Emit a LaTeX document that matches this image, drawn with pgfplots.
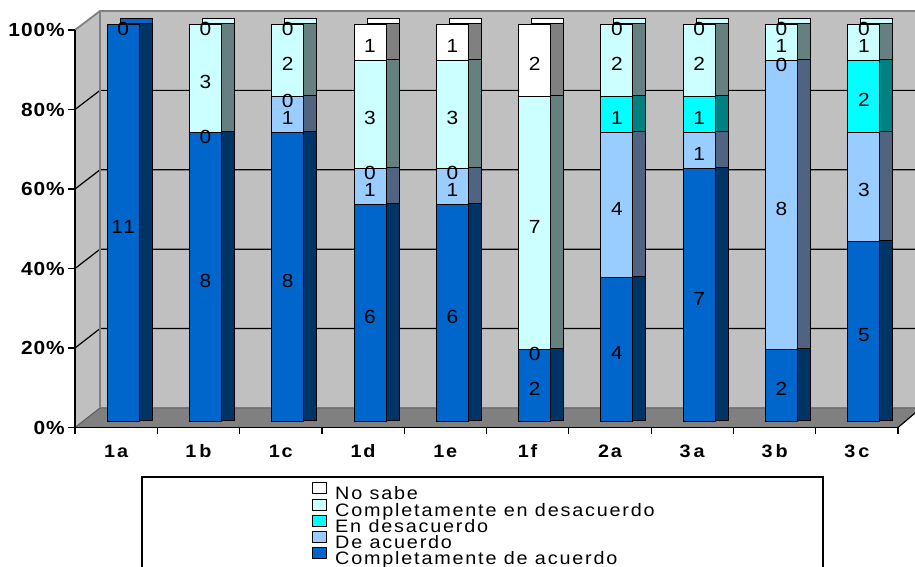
\documentclass[border=0pt]{standalone}
\usepackage{fontspec}
\setmainfont{Liberation Sans}
\newfontfamily\xl[FakeStretch=1.1,LetterSpace=10]{Liberation Sans}
\newfontfamily\xa[FakeStretch=1.1,LetterSpace=5]{Liberation Sans}
\usepackage{pgfplots}
\pgfplotsset{compat=1.18}
\usepackage{pgfplotstable}
\definecolor{ca}{HTML}{0066CC}
\definecolor{cas}{HTML}{003366}
\definecolor{da}{HTML}{99CCFF}
\definecolor{das}{HTML}{506482}
\definecolor{ed}{HTML}{00FFFF}
\definecolor{eds}{HTML}{008080}
\definecolor{cd}{HTML}{CCFFFF}
\definecolor{cds}{HTML}{668080}
\definecolor{ns}{HTML}{FFFFFF}
\definecolor{nss}{HTML}{808080}
\definecolor{wall}{HTML}{C0C0C0}
\definecolor{floorc}{HTML}{808080}
\definecolor{edge}{HTML}{808080}
\pgfplotsset{sqlegend/.style={legend image code/.code={\draw[##1,draw=black,line width=1pt] (0pt,1pt) rectangle (14pt,12pt);}},
  barbox/.style={scale only axis, width=823pt, height=397.5pt, hide axis,
  xmin=-0.5, xmax=9.5, ymin=0, ymax=11, ybar stacked, bar width=32pt, anchor=south west}}
\newcommand{\legtxt}[1]{\raisebox{0pt}[11.5pt][4.5pt]{#1}}
\pgfplotstableread{
x ca da ed cd ns
0 11 0 0 0 0
1 8 0 0 3 0
2 8 1 0 2 0
3 6 1 0 3 1
4 6 1 0 3 1
5 2 0 0 7 2
6 4 4 1 2 0
7 7 1 1 2 0
8 2 8 0 1 0
9 5 3 2 1 0
}\data
\pgfplotstableread{
x y lab
0 5.4 11
0 10.88 0
1 3.9 8
1 7.88 0
1 9.4 3
1 10.88 0
2 3.9 8
2 8.4 1
2 8.88 0
2 9.9 2
2 10.88 0
3 2.9 6
3 6.4 1
3 6.88 0
3 8.4 3
3 10.4 1
4 2.9 6
4 6.4 1
4 6.88 0
4 8.4 3
4 10.4 1
5 0.9 2
5 1.88 0
5 5.4 7
5 9.9 2
6 1.9 4
6 5.9 4
6 8.4 1
6 9.9 2
6 10.88 0
7 3.4 7
7 7.4 1
7 8.4 1
7 9.9 2
7 10.88 0
8 0.9 2
8 5.9 8
8 9.88 0
8 10.4 1
8 10.88 0
9 2.4 5
9 6.4 3
9 8.9 2
9 10.4 1
9 10.88 0
}\labels
\begin{document}
\begin{tikzpicture}
\useasboundingbox (0pt,0pt) rectangle (915pt,567pt);
% walls and floor
\fill[wall] (100pt,159pt) rectangle (920pt,556pt);
\fill[wall] (75pt,139.5pt) -- (100pt,159pt) -- (100pt,556pt) -- (75pt,537pt) -- cycle;
\fill[floorc] (75pt,139.5pt) -- (100pt,159pt) -- (921pt,159pt) -- (898pt,139.5pt) -- cycle;
\draw[black,line width=1.2pt] (898pt,139.5pt) -- (921pt,159pt);
\draw[edge!70!black,line width=1pt] (75pt,139.5pt) -- (100pt,159pt) -- (920pt,159pt);
\foreach \a/\b in {219/238.4,298.5/317.8,378/397.2,457.5/476.6}{
  \draw[black,line width=1.2pt] (75pt,\a pt) -- (100pt,\b pt) -- (920pt,\b pt);
}
\draw[edge,line width=1.5pt] (100pt,159pt) -- (100pt,556pt);
\draw[edge,line width=1.8pt] (75pt,537pt) -- (100pt,556pt) -- (920pt,556pt);
% front axis
\begin{axis}[at={(75pt,139.5pt)}, anchor=south west, scale only axis,
  width=823pt, height=397.5pt,
  xmin=-0.5, xmax=9.5, ymin=0, ymax=100,
  axis x line*=bottom, axis y line*=left,
  axis line style={line width=1.5pt,-},
  xtick={-0.5,0.5,...,9.5}, x tick label as interval,
  xticklabels={1a,1\,b,1c,1d,1e,1f,2a,3\,a,3\,b,3\,c},
  ytick={0,20,40,60,80,100},
  yticklabels={0\%,20\%,40\%,60\%,80\%,100\%},
  tick align=outside, major tick length=7pt,
  tick style={black,line width=1.2pt},
  xticklabel style={font=\xl\bfseries\fontsize{18}{19}\selectfont, anchor=north, inner sep=0pt, yshift=-10pt},
  yticklabel style={font=\xa\bfseries\fontsize{19}{20}\selectfont, anchor=east, inner sep=0pt, xshift=-3pt},
  ]
\addplot[draw=none] coordinates {(0,0)};
\end{axis}
% legend box
\draw[black,line width=1.2pt] (142pt,-5pt) rectangle (823pt,90pt);
% top faces (front colours, shifted back)
\begin{axis}[barbox, at={(95pt,151.3pt)}]
\addplot[fill=ca, draw=black, line width=1pt] table[x=x,y=ca]{\data};
\addplot[fill=da, draw=black, line width=1pt] table[x=x,y=da]{\data};
\addplot[fill=ed, draw=black, line width=1pt] table[x=x,y=ed]{\data};
\addplot[fill=cd, draw=black, line width=1pt] table[x=x,y=cd]{\data};
\addplot[fill=ns, draw=black, line width=1pt] table[x=x,y=ns]{\data};
\end{axis}
% side faces (dark colours, shifted right)
\begin{axis}[barbox, at={(95pt,146.3pt)}]
\addplot[fill=cas, draw=black, line width=1pt] table[x=x,y=ca]{\data};
\addplot[fill=das, draw=black, line width=1pt] table[x=x,y=da]{\data};
\addplot[fill=eds, draw=black, line width=1pt] table[x=x,y=ed]{\data};
\addplot[fill=cds, draw=black, line width=1pt] table[x=x,y=cd]{\data};
\addplot[fill=nss, draw=black, line width=1pt] table[x=x,y=ns]{\data};
\end{axis}
% front faces
\begin{axis}[barbox, at={(82pt,145.3pt)}, reverse legend,
  legend style={at={(0.2795,-0.1517)}, anchor=north west, draw=none, fill=none,
    font=\xl\fontsize{18}{16.5}\selectfont, cells={anchor=west, inner sep=0pt},
    row sep=-4.7pt, column sep=6pt, inner sep=0pt}]
\addplot[fill=ca, draw=black, line width=1pt, sqlegend] table[x=x,y=ca]{\data};
\addlegendentry{\legtxt{Completamente de acuerdo}}
\addplot[fill=da, draw=black, line width=1pt, sqlegend] table[x=x,y=da]{\data};
\addlegendentry{\legtxt{De acuerdo}}
\addplot[fill=ed, draw=black, line width=1pt, sqlegend] table[x=x,y=ed]{\data};
\addlegendentry{\legtxt{En desacuerdo}}
\addplot[fill=cd, draw=black, line width=1pt, sqlegend] table[x=x,y=cd]{\data};
\addlegendentry{\legtxt{Completamente en desacuerdo}}
\addplot[fill=ns, draw=black, line width=1pt, sqlegend] table[x=x,y=ns]{\data};
\addlegendentry{\legtxt{No sabe}}
\end{axis}
% data labels
\begin{axis}[at={(82pt,145.3pt)}, anchor=south west, scale only axis,
  width=823pt, height=397.5pt, hide axis, clip=false,
  xmin=-0.5, xmax=9.5, ymin=0, ymax=11]
\addplot[draw=none, mark=none, nodes near coords, point meta=explicit symbolic,
  every node near coord/.append style={anchor=center, inner sep=0pt, yshift=0pt,
    font=\xl\fontsize{19}{20}\selectfont, text=black}]
  table[x=x,y=y,meta=lab]{\labels};
\end{axis}
\end{tikzpicture}
\end{document}
